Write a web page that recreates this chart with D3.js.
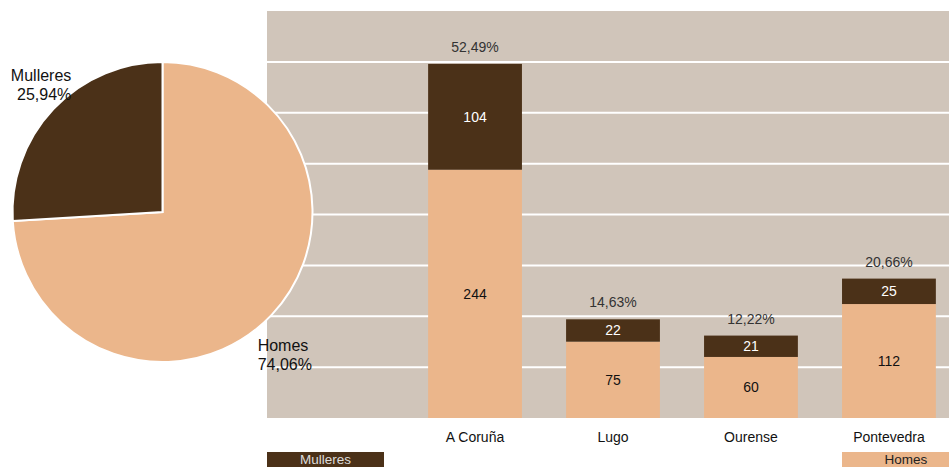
<!DOCTYPE html>
<html>
<head>
<meta charset="utf-8">
<script src="https://cdn.jsdelivr.net/npm/d3@7"></script>
<style>
  body { margin: 0; background: #fff; }
  svg { display: block; font-family: "Liberation Sans", Arial, sans-serif; }
</style>
</head>
<body>
<script>
var provinces = ["A Coruña", "Lugo", "Ourense", "Pontevedra"];
var homes = [244, 75, 60, 112];
var mulleres = [104, 22, 21, 25];
var yTicks = [50, 100, 150, 200, 250, 300, 350];
var seriesNames = ["Homes", "Mulleres"];

var w = 949;
var h = 467;
var darkColor = "#4b3118";
var lightColor = "#ebb68b";
var bgColor = "#d0c5ba";

function fmt(v) {
    return d3.format(".2f")(v).replace(".", ",") + "%";
}

var svg = d3.select("body")
    .append("svg")
    .attr("width", w)
    .attr("height", h);

// bar chart area
var plotLeft = 267, plotRight = 949, plotTop = 11, plotBottom = 418;

var xScale = d3.scaleBand()
    .domain([""].concat(provinces))
    .range([246, 980])
    .paddingInner(0.32)
    .paddingOuter(0.32);

var yScale = d3.scaleLinear()
    .domain([0, 400])
    .range([plotBottom, plotTop]);

svg.append("rect")
    .attr("x", plotLeft)
    .attr("y", plotTop)
    .attr("width", plotRight - plotLeft)
    .attr("height", plotBottom - plotTop)
    .attr("fill", bgColor);

svg.selectAll(".grid")
    .data(yTicks)
    .enter()
    .append("line")
    .attr("x1", plotLeft)
    .attr("x2", plotRight)
    .attr("y1", function (d) { return yScale(d); })
    .attr("y2", function (d) { return yScale(d); })
    .attr("stroke", "#fff")
    .attr("stroke-width", 2);

var total = d3.sum(homes) + d3.sum(mulleres);
var rows = provinces.map(function (p, i) {
    return { name: p, homes: homes[i], mulleres: mulleres[i], total: homes[i] + mulleres[i] };
});

var bw = xScale.bandwidth();

// homes segment
svg.selectAll(".homes")
    .data(rows)
    .enter()
    .append("rect")
    .attr("x", function (d) { return xScale(d.name); })
    .attr("y", function (d) { return yScale(d.homes); })
    .attr("width", bw)
    .attr("height", function (d) { return plotBottom - yScale(d.homes); })
    .attr("fill", lightColor);

// mulleres segment
svg.selectAll(".mulleres")
    .data(rows)
    .enter()
    .append("rect")
    .attr("x", function (d) { return xScale(d.name); })
    .attr("y", function (d) { return yScale(d.total); })
    .attr("width", bw)
    .attr("height", function (d) { return yScale(d.homes) - yScale(d.total); })
    .attr("fill", darkColor);

// labels inside bars
svg.selectAll(".lblH")
    .data(rows)
    .enter()
    .append("text")
    .attr("x", function (d) { return xScale(d.name) + bw / 2; })
    .attr("y", function (d) { return (yScale(d.homes) + plotBottom) / 2 + 5; })
    .attr("text-anchor", "middle")
    .attr("font-size", 14)
    .attr("fill", "#111")
    .text(function (d) { return d.homes; });

svg.selectAll(".lblM")
    .data(rows)
    .enter()
    .append("text")
    .attr("x", function (d) { return xScale(d.name) + bw / 2; })
    .attr("y", function (d) { return (yScale(d.homes) + yScale(d.total)) / 2 + 5; })
    .attr("text-anchor", "middle")
    .attr("font-size", 14)
    .attr("fill", "#fff")
    .text(function (d) { return d.mulleres; });

svg.selectAll(".lblT")
    .data(rows)
    .enter()
    .append("text")
    .attr("x", function (d) { return xScale(d.name) + bw / 2; })
    .attr("y", function (d) { return yScale(d.total) - 12; })
    .attr("text-anchor", "middle")
    .attr("font-size", 14)
    .attr("fill", "#333")
    .text(function (d) { return fmt(d.total / total * 100); });

// category labels
svg.selectAll(".cat")
    .data(provinces)
    .enter()
    .append("text")
    .attr("x", function (d) { return xScale(d) + bw / 2; })
    .attr("y", 442)
    .attr("text-anchor", "middle")
    .attr("font-size", 14)
    .attr("fill", "#111")
    .text(function (d) { return d; });

// legend
var legend = [
    { name: seriesNames[1], x: 267, w: 117, fill: darkColor, text: "#ddd" },
    { name: seriesNames[0], x: 842, w: 128, fill: lightColor, text: "#222" }
];
var lg = svg.selectAll(".legend")
    .data(legend)
    .enter()
    .append("g");
lg.append("rect")
    .attr("x", function (d) { return d.x; })
    .attr("y", 452)
    .attr("width", function (d) { return d.w; })
    .attr("height", 18)
    .attr("fill", function (d) { return d.fill; });
lg.append("text")
    .attr("x", function (d) { return d.x + d.w / 2; })
    .attr("y", 464)
    .attr("text-anchor", "middle")
    .attr("font-size", 13.5)
    .attr("fill", function (d) { return d.text; })
    .text(function (d) { return d.name; });

// pie
var pieData = [
    { name: seriesNames[0], value: d3.sum(homes), dx: -14, dy: 36, anchor: "start" },
    { name: seriesNames[1], value: d3.sum(mulleres), dx: 18, dy: -28, anchor: "end" }
];
var r = 150;
var cx = 162.5, cy = 212;

var pie = d3.pie()
    .sort(null)
    .value(function (d) { return d.value; });
var arc = d3.arc().innerRadius(0).outerRadius(r);
var outer = d3.arc().innerRadius(r).outerRadius(r);

var pg = svg.append("g")
    .attr("transform", "translate(" + cx + "," + cy + ")");

var slices = pie(pieData);
pg.selectAll("path")
    .data(slices)
    .enter()
    .append("path")
    .attr("d", arc)
    .attr("fill", function (d, i) { return i === 0 ? lightColor : darkColor; })
    .attr("stroke", "#fff")
    .attr("stroke-width", 2);

var pl = pg.selectAll(".plabel")
    .data(slices)
    .enter()
    .append("text")
    .attr("font-size", 16)
    .attr("fill", "#111")
    .attr("text-anchor", function (d) { return d.data.anchor; })
    .attr("transform", function (d) {
        var c = outer.centroid(d);
        return "translate(" + (c[0] + d.data.dx) + "," + (c[1] + d.data.dy) + ")";
    });
pl.append("tspan")
    .attr("x", 0)
    .attr("y", 0)
    .text(function (d) { return d.data.name; });
pl.append("tspan")
    .attr("x", 0)
    .attr("y", 19)
    .text(function (d) { return fmt(d.data.value / total * 100); });
</script>
</body>
</html>
